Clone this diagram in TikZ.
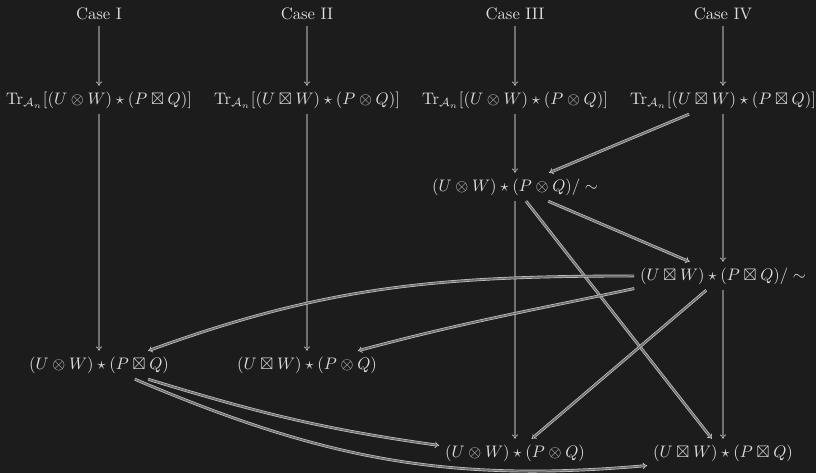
\documentclass[tikz,border=0pt]{standalone}
\usepackage{amsmath, amssymb}
\usepackage{xcolor}
\usepackage{tikz}
\usetikzlibrary{arrows.meta}

\definecolor{nen}{HTML}{1C1C1C}
\definecolor{chu}{HTML}{DCDCDC}
\definecolor{mui}{HTML}{C8C8C8}
\definecolor{giua}{HTML}{707070}

\begin{document}
\begin{tikzpicture}[x=0.6pt, y=0.6pt,
    nut/.style={text=chu},
    suy/.style={draw=mui, line width=0.4pt, double=giua, double distance=0.9pt, -{Implies}}]
    \useasboundingbox (0,0) rectangle (816,-473);
    \fill[nen] (0,0) rectangle (816,-473);

    % 1. Các trường hợp
    \node[nut] (caseI)   at (99,-14)  {Case I};
    \node[nut] (caseII)  at (307,-14) {Case II};
    \node[nut] (caseIII) at (515,-14) {Case III};
    \node[nut] (caseIV)  at (723,-14) {Case IV};

    % 2. Các vết
    \node[nut] (trI)   at (99,-100)  {$\mathrm{Tr}_{\mathcal{A}_n}[(U\otimes W)\star(P\boxtimes Q)]$};
    \node[nut] (trII)  at (307,-100) {$\mathrm{Tr}_{\mathcal{A}_n}[(U\boxtimes W)\star(P\otimes Q)]$};
    \node[nut] (trIII) at (515,-100) {$\mathrm{Tr}_{\mathcal{A}_n}[(U\otimes W)\star(P\otimes Q)]$};
    \node[nut] (trIV)  at (723,-100) {$\mathrm{Tr}_{\mathcal{A}_n}[(U\boxtimes W)\star(P\boxtimes Q)]$};

    % 3. Các thương
    \node[nut] (quotIII) at (515,-187) {$(U\otimes W)\star(P\otimes Q)/\sim$};
    \node[nut] (quotIV)  at (723,-276) {$(U\boxtimes W)\star(P\boxtimes Q)/\sim$};

    % 4. Hàng dưới
    \node[nut] (leftI)  at (99,-365)  {$(U\otimes W)\star(P\boxtimes Q)$};
    \node[nut] (leftII) at (307,-365) {$(U\boxtimes W)\star(P\otimes Q)$};
    \node[nut] (botI)   at (515,-453) {$(U\otimes W)\star(P\otimes Q)$};
    \node[nut] (botII)  at (723,-453) {$(U\boxtimes W)\star(P\boxtimes Q)$};

    % 5. Mũi tên thẳng
    \draw[suy] (caseI) -- (trI);
    \draw[suy] (caseII) -- (trII);
    \draw[suy] (caseIII) -- (trIII);
    \draw[suy] (caseIV) -- (trIV);
    \draw[suy] (trI) -- (leftI);
    \draw[suy] (trII) -- (leftII);
    \draw[suy] (trIII) -- (quotIII);
    \draw[suy] (trIV) -- (quotIII);
    \draw[suy] (trIV) -- (quotIV);
    \draw[suy] (quotIII) -- (quotIV);
    \draw[suy] (quotIII) -- (botI);
    \draw[suy] (quotIII) -- (botII);
    \draw[suy] (quotIV) -- (botI);
    \draw[suy] (quotIV) -- (botII);

    % 6. Mũi tên cong
    \draw[suy] (quotIV.west) to[out=180, in=20] ([xshift=-16pt]leftI.north east);
    \draw[suy] ([yshift=1pt]quotIV.south west) to[out=192, in=15] ([xshift=-15pt]leftII.north east);
    \draw[suy] ([xshift=-16pt]leftI.south east) to[out=-17, in=172] ([yshift=-4pt]botI.north west);
    \draw[suy] ([xshift=-24pt]leftI.south east) to[out=-23, in=185] ([yshift=1pt]botII.south west);

\end{tikzpicture}
\end{document}
